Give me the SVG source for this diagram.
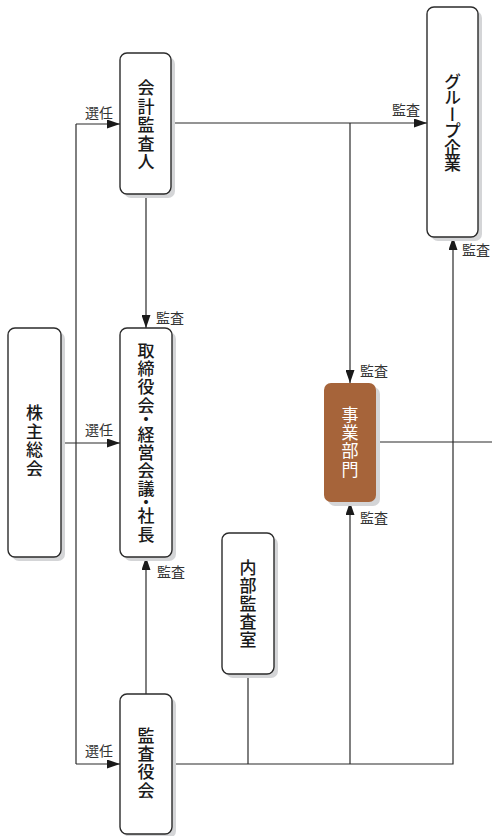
<svg xmlns="http://www.w3.org/2000/svg" width="492" height="836" viewBox="0 0 492 836">
<style>
.box{fill:#fff;stroke:#2b2b2b;stroke-width:1.4}
.shadow{fill:#d4d5d7}
.vt{font-family:"Noto Sans CJK JP","Noto Sans",sans-serif;font-size:17px;font-weight:500;fill:#1a1a1a;writing-mode:vertical-rl;text-anchor:middle}
.dot{font-feature-settings:"vpal"}
.lbl{font-family:"Noto Sans CJK JP","Noto Sans",sans-serif;font-size:14px;fill:#333;dominant-baseline:central}
.ln{fill:none;stroke:#2b2b2b;stroke-width:1.2}
</style>
<defs>
<marker id="ah" viewBox="0 0 13 9" refX="13" refY="4.5" markerWidth="13" markerHeight="9" markerUnits="userSpaceOnUse" orient="auto">
<path d="M0,0 L13,4.5 L0,9 Z" fill="#1a1a1a"/>
</marker>
</defs>

<g id="connectors">
<path class="ln" d="M76,124 V764"/>
<path class="ln" d="M76,124 H120" marker-end="url(#ah)"/>
<path class="ln" d="M61,443 H120" marker-end="url(#ah)"/>
<path class="ln" d="M76,764 H120" marker-end="url(#ah)"/>
<path class="ln" d="M171,123 H427" marker-end="url(#ah)"/>
<path class="ln" d="M350,123 V383" marker-end="url(#ah)"/>
<path class="ln" d="M146,194 V328" marker-end="url(#ah)"/>
<path class="ln" d="M146,694 V557" marker-end="url(#ah)"/>
<path class="ln" d="M172,764 H453 V237" marker-end="url(#ah)"/>
<path class="ln" d="M350,764 V502" marker-end="url(#ah)"/>
<path class="ln" d="M248,674 V764"/>
<path class="ln" d="M376,442 H492"/>
<text class="lbl" x="85" y="112">選任</text>
<text class="lbl" x="85" y="429">選任</text>
<text class="lbl" x="85" y="750">選任</text>
<text class="lbl" x="392" y="108.5">監査</text>
<text class="lbl" x="462" y="249">監査</text>
<text class="lbl" x="156" y="317">監査</text>
<text class="lbl" x="360" y="370">監査</text>
<text class="lbl" x="360" y="516.5">監査</text>
<text class="lbl" x="157" y="571">監査</text>
</g>

<g id="kaikei-kansanin">
<rect class="shadow" x="124" y="57" width="51" height="141" rx="7"/>
<rect class="box" x="120" y="53" width="51" height="141" rx="7"/>
<text class="vt"><tspan x="146" y="88">会</tspan><tspan x="146" y="106.5">計</tspan><tspan x="146" y="125">監</tspan><tspan x="146" y="143.5">査</tspan><tspan x="146" y="162">人</tspan></text>
</g>

<g id="group-kigyo">
<rect class="shadow" x="431" y="11" width="51" height="230" rx="7"/>
<rect class="box" x="427" y="7" width="51" height="230" rx="7"/>
<text class="vt"><tspan x="452.5" y="81.5">グ</tspan><tspan x="452.5" y="98">ル</tspan><tspan x="452.5" y="114.5">ー</tspan><tspan x="452.5" y="131">プ</tspan><tspan x="452.5" y="147.5">企</tspan><tspan x="452.5" y="164">業</tspan></text>
</g>

<g id="kabunushi-sokai">
<rect class="shadow" x="12" y="332" width="53" height="229" rx="7"/>
<rect class="box" x="8" y="328" width="53" height="229" rx="7"/>
<text class="vt"><tspan x="34.5" y="413">株</tspan><tspan x="34.5" y="431.5">主</tspan><tspan x="34.5" y="450">総</tspan><tspan x="34.5" y="468.5">会</tspan></text>
</g>

<g id="torishimariyakukai">
<rect class="shadow" x="124" y="332" width="52" height="229" rx="7"/>
<rect class="box" x="120" y="328" width="52" height="229" rx="7"/>
<text class="vt"><tspan x="146" y="351">取</tspan><tspan x="146" y="369">締</tspan><tspan x="146" y="387">役</tspan><tspan x="146" y="405.5">会</tspan><tspan class="dot" x="146" y="420">・</tspan><tspan x="146" y="434">経</tspan><tspan x="146" y="452">営</tspan><tspan x="146" y="470">会</tspan><tspan x="146" y="488">議</tspan><tspan class="dot" x="146" y="502">・</tspan><tspan x="146" y="516">社</tspan><tspan x="146" y="534.5">長</tspan></text>
</g>

<g id="jigyo-bumon">
<rect class="shadow" x="328" y="387" width="52" height="119" rx="7"/>
<rect x="324" y="383" width="52" height="119" rx="7" fill="#a6643a"/>
<text class="vt" style="fill:#fff;font-weight:400"><tspan x="350" y="415">事</tspan><tspan x="350" y="433">業</tspan><tspan x="350" y="451">部</tspan><tspan x="350" y="469.5">門</tspan></text>
</g>

<g id="naibu-kansashitsu">
<rect class="shadow" x="226" y="537" width="52" height="141" rx="7"/>
<rect class="box" x="222" y="533" width="52" height="141" rx="7"/>
<text class="vt"><tspan x="248" y="568">内</tspan><tspan x="248" y="586">部</tspan><tspan x="248" y="604">監</tspan><tspan x="248" y="622">査</tspan><tspan x="248" y="640">室</tspan></text>
</g>

<g id="kansayakukai">
<rect class="shadow" x="124" y="698" width="52" height="140" rx="7"/>
<rect class="box" x="120" y="694" width="52" height="140" rx="7"/>
<text class="vt"><tspan x="146" y="736">監</tspan><tspan x="146" y="754">査</tspan><tspan x="146" y="772">役</tspan><tspan x="146" y="790.5">会</tspan></text>
</g>
</svg>
